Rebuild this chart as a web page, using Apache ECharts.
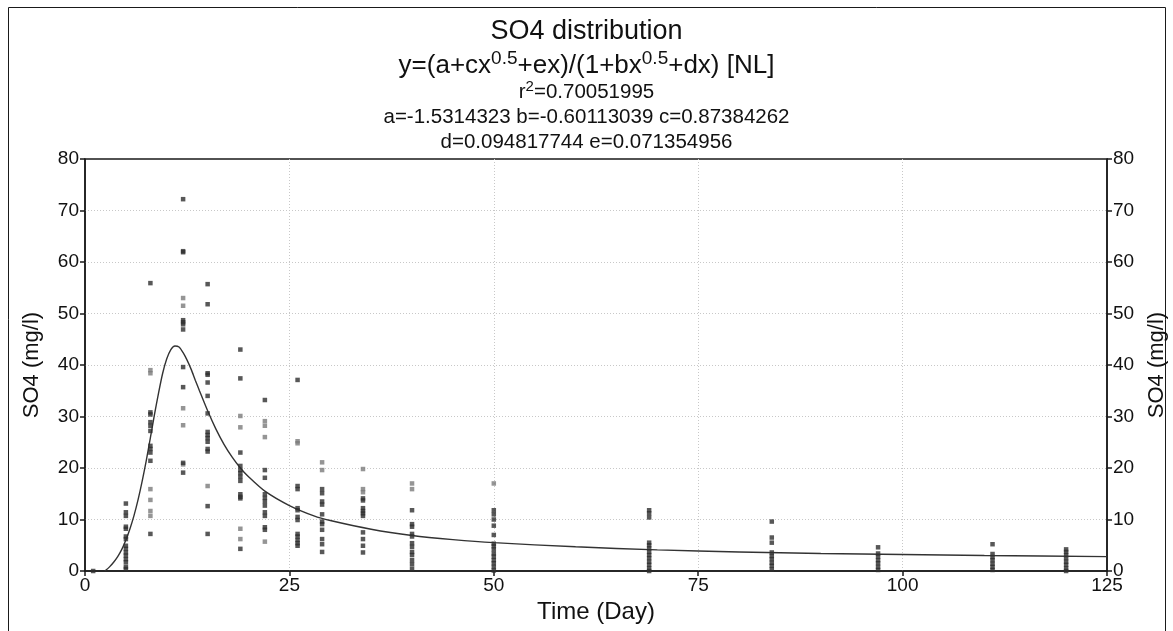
<!DOCTYPE html>
<html>
<head>
<meta charset="utf-8">
<script src="https://cdn.jsdelivr.net/npm/echarts@6/dist/echarts.min.js"></script>
<style>
html,body{margin:0;padding:0;background:#fff;}
#chart{width:1173px;height:631px;}
</style>
</head>
<body>
<div id="chart"></div>
<script>
// ---- data ----
const days = [1, 5, 8, 12, 15, 19, 22, 26, 29, 34, 40, 50, 69, 84, 97, 111, 120];
const darkValues = [
  [0],
  [13.1, 11.4, 10.7, 8.6, 8.2, 6.7, 6.2, 4.9, 4.3, 3.6, 3.0, 2.3, 1.7, 0.8, 0.4],
  [55.9, 30.8, 30.4, 28.9, 28.2, 27.2, 24.3, 23.7, 23.0, 21.4, 7.2],
  [72.2, 62.1, 61.9, 48.7, 48.3, 47.9, 46.9, 39.6, 35.7, 21.0, 19.1],
  [55.7, 51.8, 38.4, 38.1, 36.6, 34.0, 30.6, 27.0, 26.4, 25.8, 25.1, 23.7, 23.2, 12.6, 7.2],
  [43.0, 37.4, 23.0, 20.4, 19.6, 19.0, 18.3, 17.5, 14.9, 14.4, 14.1, 4.3],
  [33.2, 19.6, 18.1, 14.9, 14.2, 13.5, 12.7, 11.4, 10.7, 8.5, 8.0],
  [37.1, 16.5, 15.9, 12.2, 11.8, 10.5, 9.9, 7.2, 6.7, 6.0, 5.4, 4.9],
  [15.9, 15.1, 13.5, 12.9, 11.0, 9.6, 9.1, 8.0, 6.2, 5.2, 3.7],
  [14.1, 13.7, 12.2, 11.65, 11.2, 10.7, 7.5, 6.2, 4.9, 3.6],
  [11.8, 9.1, 8.6, 7.2, 6.7, 5.4, 4.7, 3.7, 3.1, 2.1, 1.3, 0.4],
  [11.8, 11.0, 10.0, 8.8, 7.0, 5.3, 4.8, 4.2, 3.4, 2.8, 2.1, 1.5, 0.8, 0.1],
  [11.8, 11.2, 10.4, 5.5, 5.0, 4.4, 3.7, 3.1, 2.5, 1.8, 1.2, 0.5, 0.0],
  [9.6, 6.5, 5.5, 3.6, 2.9, 2.3, 1.6, 1.0, 0.3],
  [4.6, 3.4, 2.8, 2.1, 1.5, 0.8, 0.2],
  [5.2, 3.3, 2.7, 2.1, 1.4, 0.8, 0.2],
  [4.2, 3.7, 3.1, 2.5, 1.8, 1.2, 0.5, 0.0]
];
const grayValues = [
  [],
  [],
  [39.0, 38.4, 15.9, 13.8, 11.65, 10.7],
  [53.0, 51.5, 31.6, 28.3, 20.7],
  [16.5],
  [30.1, 27.9, 8.2, 6.2],
  [29.1, 28.2, 26.0, 5.7],
  [25.2, 24.8],
  [21.1, 19.6],
  [19.8, 15.9, 15.3],
  [17.0, 15.9],
  [17.0],
  [], [], [], [], []
];
const fitX = [2.4, 2.5, 3, 3.5, 4, 4.5, 5, 5.5, 6, 6.5, 7, 7.5, 8, 8.5, 9, 9.5, 10, 10.5, 11, 11.5, 12, 12.5, 13, 13.5, 14, 15, 16, 17, 18, 19, 20, 22, 25, 28, 30, 35, 40, 45, 50, 60, 70, 80, 90, 100, 110, 125];
const fitY = [0, 0.1, 0.8, 1.7, 2.8, 4.2, 6.0, 8.2, 10.8, 13.9, 17.5, 21.5, 25.9, 30.4, 34.6, 38.4, 41.2, 43.0, 43.7, 43.5, 42.4, 40.9, 39.1, 37.0, 35.0, 31.1, 27.6, 24.6, 22.1, 20.0, 18.3, 15.5, 12.7, 10.7, 9.8, 8.1, 6.9, 6.1, 5.5, 4.7, 4.1, 3.7, 3.4, 3.2, 3.0, 2.8];
const xTicks = {min: 0, max: 125, interval: 25};
const yTicks = {min: 0, max: 80, interval: 10};
const titleLines = {
  main: 'SO4 distribution',
  eq: '{n|y=(a+cx}{s|0.5}{n|+ex)/(1+bx}{s|0.5}{n|+dx) [NL]}',
  r2: '{n|r}{s|2}{n|=0.70051995}',
  p1: 'a=-1.5314323 b=-0.60113039 c=0.87384262',
  p2: 'd=0.094817744 e=0.071354956'
};

// ---- build ----
function toPairs(vals) {
  const out = [];
  vals.forEach((col, i) => col.forEach(v => out.push([days[i], v])));
  return out;
}
const darkPts = toPairs(darkValues);
const grayPts = toPairs(grayValues);
const fitPts = fitX.map((x, i) => [x, fitY[i]]);

const FONT = '"Liberation Sans", Arial, sans-serif';
const chart = echarts.init(document.getElementById('chart'), null, {renderer: 'canvas'});

const gridLine = {show: true, showMinLine: false, showMaxLine: false, lineStyle: {color: '#c8c8c8', type: [1, 2], width: 1}};
const axisLine = {show: true, lineStyle: {color: '#1a1a1a', width: 1.5}};
const tickStyle = {show: true, length: 5, lineStyle: {color: '#1a1a1a', width: 1.5}};
const lbl = {color: '#111', fontSize: 19, fontFamily: FONT};
const plain = (size, lh) => ({fontFamily: FONT, fontWeight: 'normal', fontSize: size, color: '#111', lineHeight: lh});

const option = {
  backgroundColor: '#fff',
  animation: false,
  title: [
    {text: titleLines.main, left: 'center', top: 11, textStyle: plain(27, 32)},
    {text: titleLines.eq, left: 'center', top: 44, textStyle: {fontFamily: FONT, fontWeight: 'normal', color: '#111',
      rich: {n: {fontFamily: FONT, fontSize: 26, lineHeight: 30, verticalAlign: 'bottom', color: '#111'},
             s: {fontFamily: FONT, fontSize: 19, lineHeight: 30, verticalAlign: 'top', color: '#111'}}}},
    {text: titleLines.r2, left: 'center', top: 74, textStyle: {fontFamily: FONT, fontWeight: 'normal', color: '#111',
      rich: {n: {fontFamily: FONT, fontSize: 20.5, lineHeight: 24, verticalAlign: 'bottom', color: '#111'},
             s: {fontFamily: FONT, fontSize: 15, lineHeight: 24, verticalAlign: 'top', color: '#111'}}}},
    {text: titleLines.p1, left: 'center', top: 100, textStyle: plain(20.5, 24)},
    {text: titleLines.p2, left: 'center', top: 125, textStyle: plain(20.5, 24)}
  ],
  graphic: [
    {type: 'rect', shape: {x: 8.5, y: 7.5, width: 1157, height: 640}, style: {fill: 'none', stroke: '#1a1a1a', lineWidth: 1}, silent: true, z: 0}
  ],
  grid: {left: 85, right: 66, top: 159, bottom: 60, containLabel: false, outerBoundsMode: 'none',
         show: true, borderColor: '#1a1a1a', borderWidth: 1.5, backgroundColor: 'transparent'},
  xAxis: {
    type: 'value', min: xTicks.min, max: xTicks.max, interval: xTicks.interval,
    name: 'Time (Day)', nameLocation: 'middle', nameGap: 29,
    nameTextStyle: {fontFamily: FONT, fontSize: 24, color: '#111'},
    axisLine: axisLine, axisTick: tickStyle, axisLabel: Object.assign({margin: 5}, lbl),
    splitLine: gridLine
  },
  yAxis: [
    {
      type: 'value', min: yTicks.min, max: yTicks.max, interval: yTicks.interval, position: 'left',
      name: 'SO4 (mg/l)', nameLocation: 'middle', nameGap: 42,
      nameTextStyle: {fontFamily: FONT, fontSize: 22, color: '#111'},
      axisLine: axisLine, axisTick: tickStyle, axisLabel: Object.assign({margin: 6}, lbl),
      splitLine: gridLine
    },
    {
      type: 'value', min: yTicks.min, max: yTicks.max, interval: yTicks.interval, position: 'right',
      name: 'SO4 (mg/l)', nameLocation: 'middle', nameGap: 39, nameRotate: 90,
      nameTextStyle: {fontFamily: FONT, fontSize: 22, color: '#111'},
      axisLine: axisLine, axisTick: tickStyle, axisLabel: Object.assign({margin: 6}, lbl),
      splitLine: {show: false}
    }
  ],
  series: [
    {type: 'line', data: fitPts, showSymbol: false, smooth: 0.25, clip: true,
     lineStyle: {color: '#333', width: 1.4}, z: 3},
    {type: 'scatter', data: grayPts, symbol: 'rect', symbolSize: 4.5, itemStyle: {color: '#7a7a7a'}, z: 4},
    {type: 'scatter', data: darkPts, symbol: 'rect', symbolSize: 4.5, itemStyle: {color: '#2e2e2e'}, z: 5}
  ]
};
chart.setOption(option);
</script>
</body>
</html>
